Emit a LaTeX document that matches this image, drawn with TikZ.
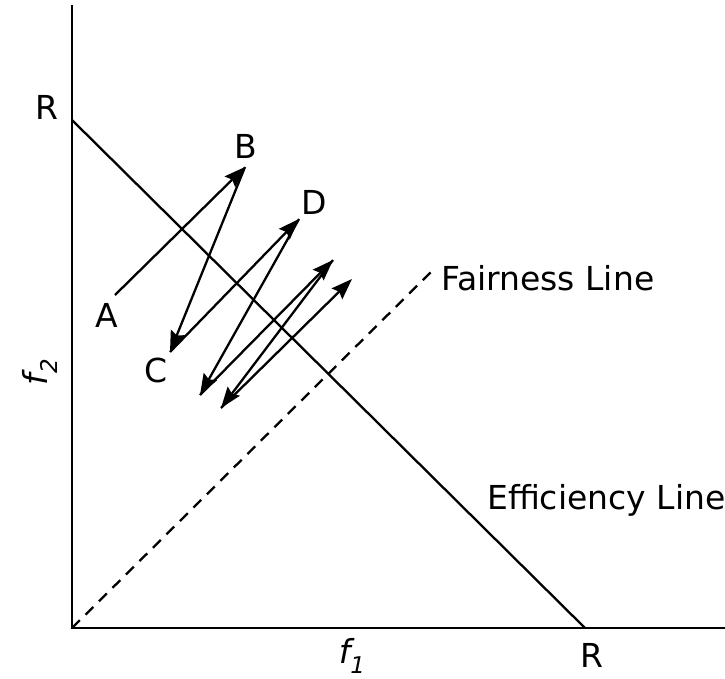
\documentclass[tikz,border=0pt]{standalone}
\usepackage{fontspec}
\setmainfont{DejaVu Sans}
\usetikzlibrary{arrows.meta}
\tikzset{
  lbl/.style={inner sep=0pt, font=\fontsize{33}{38}\selectfont},
  axisline/.style={line width=2.6pt},
  zig/.style={line width=2.3pt, -{Stealth[length=21pt,width=15pt,inset=3pt]}},
}
\newcommand{\fsub}[1]{{\itshape f}\raisebox{-0.32em}{\fontsize{23}{23}\selectfont\itshape #1}}
\begin{document}
\begin{tikzpicture}[x=1pt,y=-1pt]
\useasboundingbox (0,0) rectangle (725,678);

% axes
\coordinate (o) at (72,628);
\coordinate (ytop) at (72,5);
\coordinate (xend) at (725,628);
\draw[axisline] (ytop) -- (o) -- (xend);

% efficiency and fairness lines
\coordinate (r2) at (72,120);
\coordinate (r1) at (585,628);
\coordinate (fair) at (435,268);
\draw[line width=2.3pt] (r2) -- (r1);
\draw[line width=2.3pt, dash pattern=on 11pt off 8pt] (o) -- (fair);

% zigzag
\coordinate (p0) at (115,295);
\coordinate (p1) at (245,167);
\coordinate (p2) at (170,352);
\coordinate (p3) at (299,219);
\coordinate (p4) at (200,395);
\coordinate (p5) at (333,260);
\coordinate (p6) at (221,408);
\coordinate (p7) at (352,279);
\foreach \i [evaluate=\i as \j using int(\i+1)] in {0,...,6}
\draw[zig] (p\i) -- (p\j);

% labels
\node[lbl] (ptA) at (107,315) {A};
\node[lbl] (ptB) at (246,146) {B};
\node[lbl] (ptC) at (156,370) {C};
\node[lbl] (ptD) at (314,202) {D};
\node[lbl] (rY) at (47,107) {R};
\node[lbl] (rX) at (592,655) {R};
\node[lbl, anchor=west] (fairlbl) at (441,278) {Fairness Line};
\node[lbl, anchor=west] (efflbl) at (487,500) {Efficiency Line};
\node[lbl] (f1lbl) at (352,656) {\fsub{1}};
\node[lbl, rotate=90] (f2lbl) at (40,372) {\fsub{2}};
\end{tikzpicture}
\end{document}
